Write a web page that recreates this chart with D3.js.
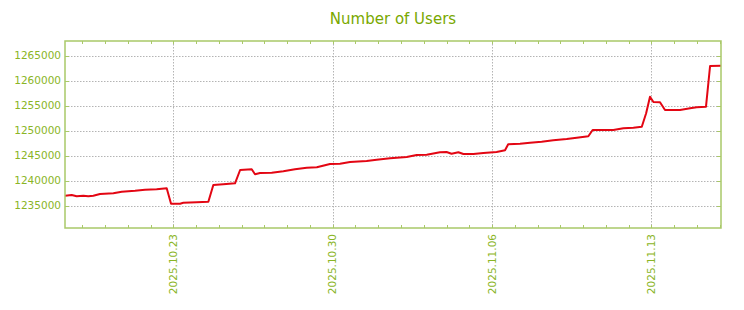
<!DOCTYPE html>
<html><head><meta charset="utf-8">
<script src="https://cdn.jsdelivr.net/npm/d3@7"></script>
<style>body{margin:0;background:#fff}svg{display:block}</style>
</head><body>
<script>
const title = "Number of Users";
const times = ["2025-10-18T05:40","2025-10-18T12:45","2025-10-18T18:00","2025-10-19T01:00","2025-10-19T06:15","2025-10-19T11:30","2025-10-19T18:35","2025-10-20T08:40","2025-10-20T17:30","2025-10-21T07:30","2025-10-21T18:00","2025-10-22T06:20","2025-10-22T16:55","2025-10-22T21:30","2025-10-23T07:00","2025-10-23T10:25","2025-10-24T00:35","2025-10-24T12:50","2025-10-24T18:05","2025-10-25T04:35","2025-10-25T16:57","2025-10-25T22:20","2025-10-26T10:34","2025-10-26T14:02","2025-10-26T19:19","2025-10-27T07:41","2025-10-27T19:55","2025-10-28T08:10","2025-10-28T20:34","2025-10-29T07:12","2025-10-29T21:07","2025-10-30T07:41","2025-10-30T18:14","2025-10-31T11:46","2025-10-31T22:19","2025-11-01T12:29","2025-11-02T06:00","2025-11-02T16:34","2025-11-03T03:07","2025-11-03T17:02","2025-11-04T00:00","2025-11-04T05:17","2025-11-04T12:29","2025-11-04T17:46","2025-11-05T04:19","2025-11-05T14:53","2025-11-06T04:48","2025-11-06T13:41","2025-11-06T17:02","2025-11-07T05:31","2025-11-07T16:05","2025-11-08T04:19","2025-11-08T16:34","2025-11-09T06:43","2025-11-09T17:17","2025-11-10T05:31","2025-11-10T10:05","2025-11-10T21:22","2025-11-11T07:55","2025-11-11T18:29","2025-11-12T05:02","2025-11-12T13:55","2025-11-12T18:29","2025-11-12T22:34","2025-11-13T02:10","2025-11-13T09:07","2025-11-13T14:24","2025-11-14T06:14","2025-11-14T16:48","2025-11-14T23:46","2025-11-15T09:36","2025-11-15T13:55","2025-11-16T01:26"];
const users = [1237020,1237160,1236900,1237020,1236900,1237020,1237360,1237500,1237820,1238020,1238220,1238300,1238500,1235420,1235420,1235620,1235700,1235820,1239160,1239300,1239500,1242160,1242300,1241300,1241560,1241620,1241900,1242300,1242620,1242700,1243360,1243420,1243760,1243960,1244220,1244500,1244760,1245160,1245220,1245700,1245760,1245420,1245700,1245360,1245360,1245560,1245760,1246100,1247300,1247420,1247620,1247820,1248100,1248360,1248620,1248900,1250160,1250160,1250160,1250500,1250620,1250820,1253500,1256820,1255760,1255700,1254160,1254160,1254500,1254700,1254820,1262960,1263020];
const yTicks = [1235000,1240000,1245000,1250000,1255000,1260000,1265000];
const xTickLabels = ["2025.10.23","2025.10.30","2025.11.06","2025.11.13"];
const yDomain = [1230560, 1267960];

const W = 744, H = 310;
const m = {left:65, right:23, top:41, bottom:82};
const iw = W - m.left - m.right, ih = H - m.top - m.bottom;
const parse = d3.timeParse("%Y-%m-%dT%H:%M");
const parseLbl = d3.timeParse("%Y.%m.%d");
const data = times.map((t,i)=>({t:parse(t), v:users[i]}));
const green = "#8ab526", border = "#a9c968";

const svg = d3.select("body").append("svg").attr("width",W).attr("height",H)
  .style("font-family","'DejaVu Sans', sans-serif");

svg.append("text").attr("x", m.left + iw/2).attr("y", 24).attr("text-anchor","middle")
  .attr("font-size","15px").attr("fill","#79a800").text(title);

const x = d3.scaleTime().domain(d3.extent(data,d=>d.t)).range([0, iw]);
const y = d3.scaleLinear().domain(yDomain).range([ih, 0]);
const g = svg.append("g").attr("transform",`translate(${m.left},${m.top})`);

const majors = xTickLabels.map(parseLbl);
// grid
g.append("g").selectAll("line").data(yTicks).join("line")
  .attr("x1",0).attr("x2",iw).attr("y1",d=>Math.round(y(d))+0.5).attr("y2",d=>Math.round(y(d))+0.5)
  .attr("stroke","#b4b4b4").attr("stroke-dasharray","1.5,1.5");
g.append("g").selectAll("line").data(majors).join("line")
  .attr("y1",0).attr("y2",ih).attr("x1",d=>Math.round(x(d))+0.5).attr("x2",d=>Math.round(x(d))+0.5)
  .attr("stroke","#b4b4b4").attr("stroke-dasharray","1.5,1.5");

// minor day ticks
const days = d3.timeDay.range(d3.timeDay.ceil(x.domain()[0]), x.domain()[1]);
g.append("g").selectAll("line").data(days).join("line")
  .attr("x1",d=>Math.round(x(d))+0.5).attr("x2",d=>Math.round(x(d))+0.5)
  .attr("y1",ih).attr("y2",ih-3).attr("stroke",border);
g.append("g").selectAll("line").data(days).join("line")
  .attr("x1",d=>Math.round(x(d))+0.5).attr("x2",d=>Math.round(x(d))+0.5)
  .attr("y1",0).attr("y2",3).attr("stroke",border);
// y side ticks
g.append("g").selectAll("line").data(yTicks).join("line")
  .attr("x1",0).attr("x2",4).attr("y1",d=>Math.round(y(d))+0.5).attr("y2",d=>Math.round(y(d))+0.5).attr("stroke",border);
g.append("g").selectAll("line").data(yTicks).join("line")
  .attr("x1",iw-4).attr("x2",iw).attr("y1",d=>Math.round(y(d))+0.5).attr("y2",d=>Math.round(y(d))+0.5).attr("stroke",border);

// line
g.append("path").datum(data)
  .attr("d", d3.line().x(d=>x(d.t)).y(d=>y(d.v)))
  .attr("fill","none").attr("stroke","#e30613").attr("stroke-width",2).attr("stroke-linejoin","round");

// border
g.append("rect").attr("x",0).attr("y",0).attr("width",iw).attr("height",ih)
  .attr("fill","none").attr("stroke",border).attr("stroke-width",1.5);

// y labels
g.append("g").selectAll("text").data(yTicks).join("text")
  .attr("x",-4).attr("y",d=>y(d)).attr("dy","0.35em").attr("text-anchor","end")
  .attr("font-size","10.5px").attr("fill",green).text(d=>d);

// x labels
g.append("g").selectAll("text").data(majors).join("text")
  .attr("transform",d=>`translate(${x(d)},${ih+6}) rotate(-90)`)
  .attr("text-anchor","end").attr("dy","0.35em")
  .attr("font-size","10.5px").attr("fill",green).text(d=>d3.timeFormat("%Y.%m.%d")(d));
</script>
</body></html>
